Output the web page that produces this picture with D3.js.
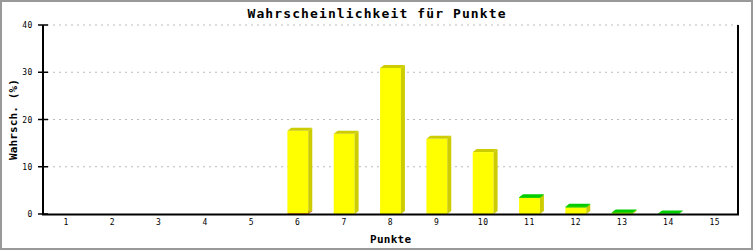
<!DOCTYPE html>
<html>
<head>
<meta charset="utf-8">
<script src="https://cdn.jsdelivr.net/npm/d3@7"></script>
<style>
  body { margin: 0; background: #fff; }
  text { font-family: "DejaVu Sans Mono", "Liberation Mono", monospace; fill: #000; }
</style>
</head>
<body>
<div id="chart"></div>
<script>
// Punkte 1..15
var punkte = ["1","2","3","4","5","6","7","8","9","10","11","12","13","14","15"];
// Wahrscheinlichkeit in %, gestapelt: rot unten, gelb, gruen oben
var rot   = [0, 0, 0, 0, 0, 0.1, 0, 0, 0, 0, 0, 0, 0, 0, 0];
var gelb  = [0, 0, 0, 0, 0, 17.5, 17.0, 30.9, 15.9, 13.1, 3.4, 1.4, 0.2, 0, 0];
var gruen = [0, 0, 0, 0, 0, 0, 0, 0, 0, 0, 0.15, 0.15, 0.1, 0.1, 0];
var yTicks = [0, 10, 20, 30, 40];

var serien = [
  { werte: rot,   front: "#ff0000", schatten: "#cc0000" },
  { werte: gelb,  front: "#ffff00", schatten: "#cccc00" },
  { werte: gruen, front: "#00dd00", schatten: "#00cc00" }
];

var width = 753, height = 250;
var pLeft = 43, pRight = 738, pTop = 25, pBottom = 214;
var dx = 4, dy = 3;

var svg = d3.select("#chart").append("svg")
    .attr("width", width)
    .attr("height", height);

svg.append("rect")
    .attr("x", 1).attr("y", 1)
    .attr("width", width - 2).attr("height", height - 2)
    .attr("fill", "#fff")
    .attr("stroke", "#999")
    .attr("stroke-width", 2);

var x = d3.scaleBand().domain(punkte).range([pLeft, pRight]);
var y = d3.scaleLinear().domain([0, 40]).range([pBottom, pTop]);
var barW = x.bandwidth() * 0.45;

// Gitterlinien
svg.selectAll("line.grid")
    .data(yTicks.filter(function(d) { return d > 0; }))
    .enter().append("line")
    .attr("x1", pLeft + 4).attr("x2", pRight)
    .attr("y1", function(d) { return y(d); })
    .attr("y2", function(d) { return y(d); })
    .attr("stroke", "#bbb")
    .attr("stroke-dasharray", "2,4");

// Balken (3D, gestapelt)
var basis = punkte.map(function() { return 0; });
serien.forEach(function(s) {
  punkte.forEach(function(p, i) {
    var v = s.werte[i];
    if (!(v > 0)) return;
    var x0 = x(p) + (x.bandwidth() - barW) / 2;
    var y0 = y(basis[i]);
    var y1 = y(basis[i] + v);
    basis[i] += v;
    var g = svg.append("g");
    g.append("rect")
        .attr("x", x0).attr("y", y1)
        .attr("width", barW).attr("height", Math.max(y0 - y1, 0.8))
        .attr("fill", s.front);
    g.append("path")
        .attr("d", "M" + (x0 + barW) + "," + y0 + "L" + (x0 + barW + dx) + "," + (y0 - dy) +
                   "L" + (x0 + barW + dx) + "," + (y1 - dy) + "L" + (x0 + barW) + "," + y1 + "Z")
        .attr("fill", s.schatten);
    g.append("path")
        .attr("d", "M" + x0 + "," + y1 + "L" + (x0 + dx) + "," + (y1 - dy) +
                   "L" + (x0 + barW + dx) + "," + (y1 - dy) + "L" + (x0 + barW) + "," + y1 + "Z")
        .attr("fill", s.schatten);
  });
});

// Achsen
svg.append("line")
    .attr("x1", pLeft).attr("x2", pLeft).attr("y1", pTop).attr("y2", pBottom + 1)
    .attr("stroke", "#000").attr("stroke-width", 2);
svg.append("line")
    .attr("x1", pRight).attr("x2", pRight).attr("y1", pTop).attr("y2", pBottom + 1)
    .attr("stroke", "#000").attr("stroke-width", 2);
svg.append("line")
    .attr("x1", pLeft - 1).attr("x2", pRight + 1).attr("y1", pBottom + 0.5).attr("y2", pBottom + 0.5)
    .attr("stroke", "#000").attr("stroke-width", 2);

svg.selectAll("line.ytick")
    .data(yTicks)
    .enter().append("line")
    .attr("x1", pLeft - 5).attr("x2", pLeft + 5)
    .attr("y1", function(d) { return y(d); })
    .attr("y2", function(d) { return y(d); })
    .attr("stroke", "#000").attr("stroke-width", 1.5);

svg.selectAll("text.ylab")
    .data(yTicks)
    .enter().append("text")
    .attr("x", 33)
    .attr("y", function(d) { return y(d) + 3; })
    .attr("text-anchor", "end")
    .attr("font-size", "8px")
    .attr("letter-spacing", "0.6px")
    .text(function(d) { return d; });

svg.selectAll("text.xlab")
    .data(punkte)
    .enter().append("text")
    .attr("x", function(d) { return x(d) + x.bandwidth() / 2; })
    .attr("y", 225)
    .attr("text-anchor", "middle")
    .attr("font-size", "8px")
    .attr("letter-spacing", "0.6px")
    .text(function(d) { return d; });

// Titel
svg.append("text")
    .attr("x", 376.5).attr("y", 18)
    .attr("text-anchor", "middle")
    .attr("font-size", "13px")
    .attr("font-weight", "bold")
    .attr("textLength", 258)
    .attr("lengthAdjust", "spacing")
    .text("Wahrscheinlichkeit für Punkte");

svg.append("text")
    .attr("x", (pLeft + pRight) / 2).attr("y", 242.5)
    .attr("text-anchor", "middle")
    .attr("font-size", "11px")
    .attr("font-weight", "bold")
    .attr("textLength", 41)
    .attr("lengthAdjust", "spacing")
    .text("Punkte");

svg.append("text")
    .attr("transform", "translate(16.5," + ((pTop + pBottom) / 2) + ") rotate(-90)")
    .attr("text-anchor", "middle")
    .attr("font-size", "11px")
    .attr("font-weight", "bold")
    .attr("textLength", 81)
    .attr("lengthAdjust", "spacing")
    .text("Wahrsch. (%)");
</script>
</body>
</html>
